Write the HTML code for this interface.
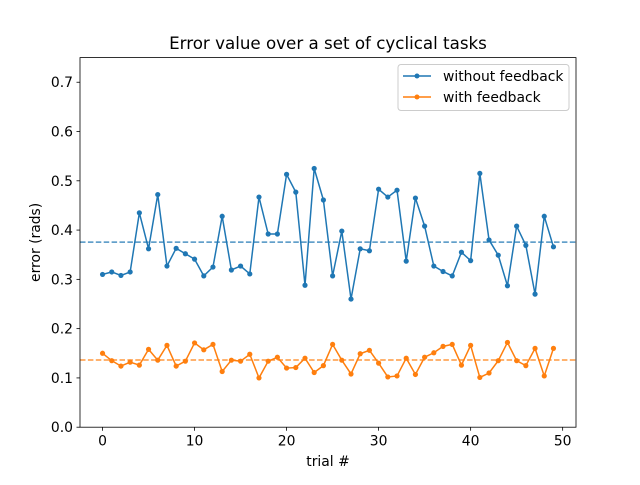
<!DOCTYPE html>
<html><head><meta charset="utf-8"><style>
html,body{margin:0;padding:0;background:#fff;}
svg text{font-family:"DejaVu Sans","Liberation Sans",sans-serif;}
</style></head><body>
<svg id="chart" width="640" height="480" xmlns="http://www.w3.org/2000/svg">
<rect width="640" height="480" fill="#fff"/>
<text x="328" y="49" font-size="16.7" text-anchor="middle" fill="#000">Error value over a set of cyclical tasks</text>
<g id="grid"></g>
<g id="marks"></g>
<rect x="80" y="57.6" width="496" height="369.6" fill="none" stroke="#000" stroke-width="0.8"/>
<g id="ticks"></g>
<text x="328" y="466" font-size="13.9" text-anchor="middle">trial #</text>
<text transform="translate(40,242.4) rotate(-90)" font-size="13.9" text-anchor="middle">error (rads)</text>
<g>
<rect x="398" y="64.5" width="171" height="46" fill="#fff" fill-opacity="0.8" stroke="#ccc" rx="3"/>
<line x1="403" y1="76" x2="431" y2="76" stroke="#1f77b4" stroke-width="1.5"/><circle cx="417" cy="76" r="2.5" fill="#1f77b4"/>
<text x="443" y="80.8" font-size="13.9">without feedback</text>
<line x1="403" y1="97" x2="431" y2="97" stroke="#ff7f0e" stroke-width="1.5"/><circle cx="417" cy="97" r="2.5" fill="#ff7f0e"/>
<text x="443" y="101.8" font-size="13.9">with feedback</text>
</g>
</svg>
<script>
const trials = Array.from({length:50},(_,i)=>i);
const withoutFeedback = [0.31,0.315,0.308,0.315,0.435,0.362,0.472,0.327,0.363,0.352,0.341,0.307,0.325,0.428,0.319,0.327,0.311,0.467,0.392,0.392,0.513,0.477,0.288,0.525,0.461,0.307,0.398,0.26,0.362,0.358,0.483,0.467,0.481,0.337,0.465,0.408,0.327,0.316,0.307,0.355,0.338,0.515,0.38,0.349,0.287,0.408,0.369,0.27,0.428,0.366];
const withFeedback = [0.15,0.135,0.124,0.132,0.126,0.158,0.136,0.166,0.124,0.134,0.171,0.157,0.168,0.113,0.136,0.134,0.148,0.1,0.134,0.142,0.12,0.121,0.14,0.111,0.125,0.168,0.136,0.108,0.149,0.156,0.13,0.102,0.104,0.14,0.107,0.142,0.151,0.164,0.168,0.126,0.166,0.101,0.11,0.135,0.172,0.135,0.125,0.16,0.104,0.16];
const xTicks = [0,10,20,30,40,50];
const yTicks = [0.0,0.1,0.2,0.3,0.4,0.5,0.6,0.7];
const NS="http://www.w3.org/2000/svg";
const X0=80,X1=576,Y0=427.2,Y1=57.6,xmin=-2.45,xmax=51.45,ymin=0,ymax=0.75;
const sx=v=>X0+(v-xmin)/(xmax-xmin)*(X1-X0);
const sy=v=>Y0-(v-ymin)/(ymax-ymin)*(Y0-Y1);
function mk(t,a,p){const e=document.createElementNS(NS,t);for(const k in a)e.setAttribute(k,a[k]);p.appendChild(e);return e;}
const marks=document.getElementById('marks'),ticks=document.getElementById('ticks');
const mean=a=>a.reduce((s,v)=>s+v,0)/a.length;
[[withoutFeedback,'#1f77b4','without'],[withFeedback,'#ff7f0e','with']].forEach(([d,c,n])=>{
  const m=mean(d);
  const ml=mk('line',{x1:X0,x2:X1,y1:sy(m),y2:sy(m),stroke:c,'stroke-width':1.5,'stroke-dasharray':'5.5,2.4',opacity:0.8},marks);
  
  
  const pl=mk('polyline',{points:d.map((v,i)=>sx(trials[i])+','+sy(v)).join(' '),fill:'none',stroke:c,'stroke-width':1.5},marks);
  
  
  d.forEach((v,i)=>{const p=mk('circle',{cx:sx(trials[i]),cy:sy(v),r:2.6,fill:c},marks);
    
    });
});
xTicks.forEach(t=>{const x=sx(t);
  const l=mk('line',{x1:x,x2:x,y1:Y0,y2:Y0+3.5,stroke:'#000','stroke-width':0.8},ticks);
  
  
  const tx=mk('text',{x:x,y:Y0+18.5,'font-size':13.9,'text-anchor':'middle'},ticks);tx.textContent=t;
  
  });
yTicks.forEach(t=>{const y=sy(t);
  const l=mk('line',{x1:X0-3.5,x2:X0,y1:y,y2:y,stroke:'#000','stroke-width':0.8},ticks);
  
  
  const tx=mk('text',{x:X0-7,y:y+5,'font-size':13.9,'text-anchor':'end'},ticks);tx.textContent=t.toFixed(1);
  
  });
</script>
</body></html>
